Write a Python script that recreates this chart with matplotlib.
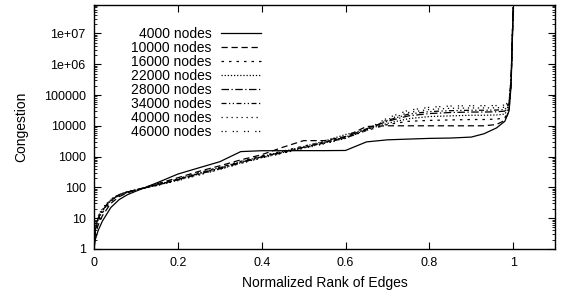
import numpy as np
import matplotlib.pyplot as plt
from matplotlib.ticker import FixedLocator, FixedFormatter, LogLocator, NullFormatter

plt.rcParams['font.family'] = ['Liberation Sans', 'DejaVu Sans']

# normalized rank (shared grid)
rank = [0, 0.003, 0.01, 0.02, 0.04, 0.06, 0.08, 0.1, 0.15, 0.2, 0.25, 0.3,
        0.35, 0.4, 0.45, 0.5, 0.55, 0.6, 0.65, 0.7, 0.75, 0.8, 0.85, 0.9,
        0.93, 0.96, 0.98, 0.99, 0.995, 1.0]

labels = ['4000 nodes', '10000 nodes', '16000 nodes', '22000 nodes',
          '28000 nodes', '34000 nodes', '40000 nodes', '46000 nodes']

c4000 = [1, 2, 4, 8, 22, 40, 58, 75, 140, 270, 430, 680, 1450, 1550, 1550,
         1560, 1560, 1580, 3000, 3500, 3700, 3900, 4000, 4300, 5500, 8500,
         14000, 30000, 200000, 7e7]
c10000 = [1, 3, 6, 12, 30, 50, 66, 82, 130, 205, 330, 500, 780, 1150, 2000,
          3300, 3300, 4500, 9500, 10000, 10000, 10000, 10000, 10000, 10000,
          11000, 15000, 30000, 250000, 7e7]
c16000 = [1, 4, 8, 15, 35, 55, 70, 82, 125, 190, 300, 450, 700, 1050, 1500,
          2200, 3000, 4200, 7000, 11000, 14000, 15000, 15500, 16000, 16000,
          16500, 18000, 35000, 250000, 7e7]
c22000 = [1, 4, 9, 17, 37, 56, 70, 82, 122, 185, 290, 440, 680, 1000, 1450,
          2100, 3200, 5200, 7500, 12000, 17000, 20000, 21000, 22000, 22000,
          22500, 24000, 40000, 300000, 7e7]
c28000 = [1, 5, 10, 18, 38, 57, 71, 82, 120, 180, 280, 420, 650, 980, 1400,
          2000, 2900, 4300, 8000, 14000, 21000, 25000, 27000, 28000, 28000,
          28500, 30000, 45000, 300000, 7e7]
c34000 = [1, 5, 10, 19, 39, 58, 72, 82, 118, 175, 270, 400, 630, 950, 1350,
          1950, 2800, 4000, 7500, 15000, 24000, 29000, 31000, 32000, 32000,
          32500, 34000, 50000, 350000, 7e7]
c40000 = [1, 6, 11, 20, 40, 58, 72, 82, 116, 170, 260, 390, 610, 920, 1300,
          1900, 2700, 4000, 7000, 16000, 27000, 34000, 37000, 38000, 38000,
          38500, 40000, 55000, 350000, 7e7]
c46000 = [1, 6, 12, 21, 41, 59, 72, 82, 114, 165, 250, 380, 600, 900, 1280,
          1850, 2600, 3900, 7500, 18000, 32000, 40000, 44000, 45000, 45000,
          45500, 47000, 60000, 400000, 7e7]

series = [c4000, c10000, c16000, c22000, c28000, c34000, c40000, c46000]
styles = ['-', (0, (5, 3)), (0, (2, 4)), (0, (1, 1.5)),
          (0, (6, 2, 1, 2)), (0, (4, 2, 1, 2, 1, 2)), (0, (1, 3)),
          (0, (1, 2, 1, 5))]

fig = plt.figure(figsize=(5.63, 2.97), dpi=100)
ax = fig.add_axes([0.167, 0.162, 0.819, 0.821])

for ys, lab, ls in zip(series, labels, styles):
    ax.plot(rank, ys, color='black', linewidth=0.9, linestyle=ls, label=lab)

ax.set_yscale('log')
ax.set_xlim(0, 1.1)
ax.set_ylim(1, 8.4e7)

yt = [1, 10, 100, 1000, 10000, 100000, 1e6, 1e7]
ytl = ['1', '10', '100', '1000', '10000', '100000', '1e+06', '1e+07']
ax.yaxis.set_major_locator(FixedLocator(yt))
ax.yaxis.set_major_formatter(FixedFormatter(ytl))
ax.yaxis.set_minor_locator(LogLocator(base=10, subs=np.arange(2, 10), numticks=20))
ax.yaxis.set_minor_formatter(NullFormatter())

xt = [0, 0.2, 0.4, 0.6, 0.8, 1]
ax.set_xticks(xt)
ax.set_xticklabels(['0', '0.2', '0.4', '0.6', '0.8', '1'])

ax.tick_params(which='major', direction='in', length=5, width=0.8,
               top=True, right=True, labelsize=9, pad=6)
ax.tick_params(which='minor', direction='in', length=2.5, width=0.6,
               top=True, right=True)
for s in ax.spines.values():
    s.set_linewidth(1.0)

ax.set_xlabel('Normalized Rank of Edges', fontsize=10, labelpad=5)
ax.set_ylabel('Congestion', fontsize=10, labelpad=11)

ax.legend(loc='upper right', bbox_to_anchor=(0.362, 0.91), frameon=False,
          markerfirst=False, fontsize=10, handlelength=2.9, handletextpad=0.65,
          labelspacing=0.0, borderaxespad=0, borderpad=0)

fig.savefig('out.png', dpi=100)
